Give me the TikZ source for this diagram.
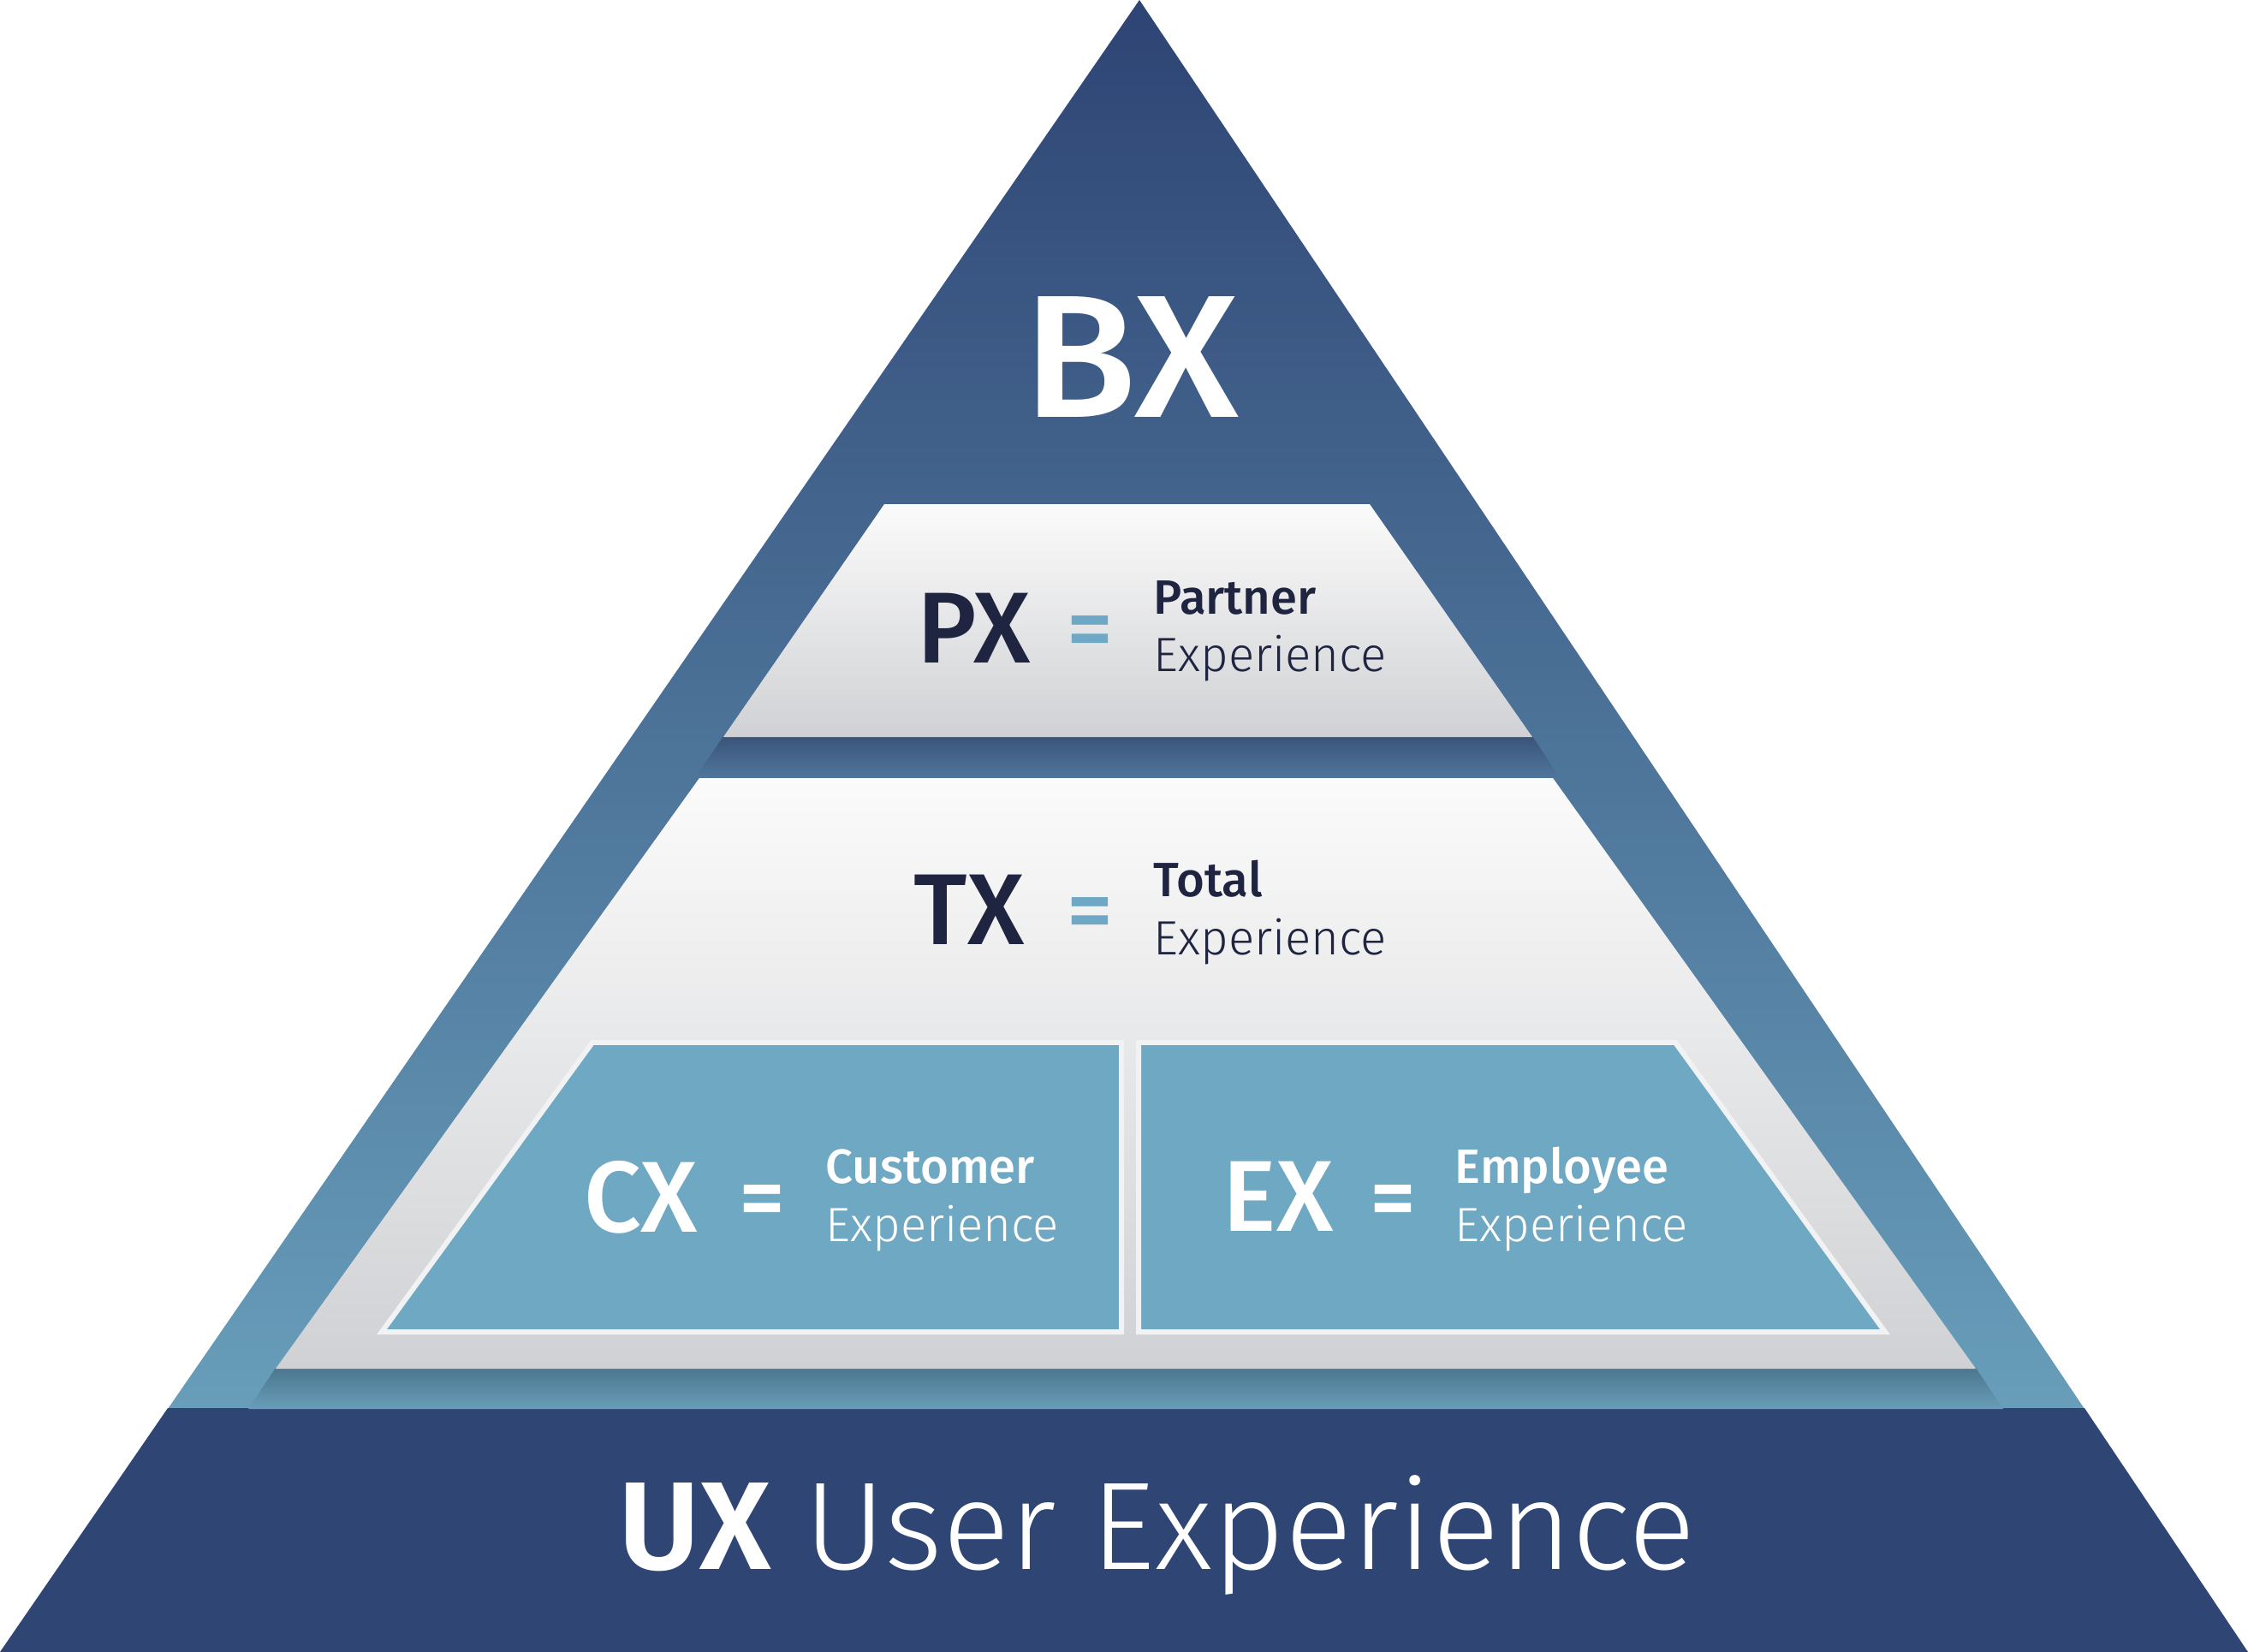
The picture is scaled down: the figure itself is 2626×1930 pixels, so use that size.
\documentclass[tikz,border=0pt]{standalone}
\usepackage{fontspec}
\setmainfont{Fira Sans}
\newfontfamily\flight{Fira Sans Light}
\newfontfamily\fmed{Fira Sans Medium}
\newfontfamily\fsemi{Fira Sans SemiBold}
\definecolor{navy}{RGB}{47,70,117}
\definecolor{tritop}{RGB}{46,68,116}
\definecolor{tribot}{RGB}{104,158,186}
\definecolor{textdark}{RGB}{31,37,65}
\definecolor{eqblue}{RGB}{111,168,196}
\definecolor{boxblue}{RGB}{111,168,194}
\definecolor{boxedge}{RGB}{240,242,243}
\definecolor{graytop}{RGB}{251,251,251}
\definecolor{graybot}{RGB}{208,209,212}
\definecolor{shadeAtop}{RGB}{58,84,120}
\definecolor{shadeAbot}{RGB}{80,118,156}
\definecolor{shadeBtop}{RGB}{76,118,142}
\definecolor{shadeBbot}{RGB}{104,158,186}
\tikzset{
  big/.style={anchor=base west, inner sep=0pt, font=\fmed\fontsize{33.5}{33.5}\selectfont},
  head/.style={anchor=base west, inner sep=0pt, font=\fmed\fontsize{16}{16}\selectfont},
  sub/.style={anchor=base west, inner sep=0pt, font=\flight\fontsize{16}{16}\selectfont},
  eqsign/.style={anchor=center, inner sep=0pt, font=\fmed\fontsize{30}{30}\selectfont},
}
\begin{document}
\begin{tikzpicture}[x=0.01cm,y=-0.01cm]
\useasboundingbox (0,0) rectangle (2626,1930);
% main triangle
\shade[top color=tritop, bottom color=tribot] (1331,0) -- (2435,1646) -- (196,1646) -- cycle;
% UX band
\fill[navy] (196,1645) -- (2435,1645) -- (2626,1930) -- (0,1930) -- cycle;
% shadows
\shade[top color=shadeAtop, bottom color=shadeAbot] (845,860) -- (1790,860) -- (1822,909) -- (812,909) -- cycle;
\shade[top color=shadeBtop, bottom color=shadeBbot] (322,1598) -- (2308,1598) -- (2340,1646) -- (290,1646) -- cycle;
% PX tier
\shade[top color=graytop, bottom color=graybot] (1033,589) -- (1600,589) -- (1790,861) -- (845,861) -- cycle;
% TX tier
\shade[top color=graytop, bottom color=graybot] (817,909) -- (1814,909) -- (2308,1599) -- (322,1599) -- cycle;
% CX and EX boxes
\filldraw[fill=boxblue, draw=boxedge, line width=1.7pt] (692,1218) -- (1310,1218) -- (1310,1556) -- (446,1556) -- cycle;
\filldraw[fill=boxblue, draw=boxedge, line width=1.7pt] (1330,1218) -- (1957,1218) -- (2202,1556) -- (1330,1556) -- cycle;
% BX
\node[anchor=base west, inner sep=0pt, font=\fmed\fontsize{58}{58}\selectfont, white] (bx) at (1195,487) {\scalebox{1.06}[1]{BX}};
% PX
\node[big, textdark] (px) at (1071,774) {PX};
\node[eqsign, eqblue] (pxeq) at (1273,745) {=};
\node[head, textdark] (pxa) at (1347,717) {Partner};
\node[sub, textdark] (pxb) at (1347,784) {Experience};
% TX
\node[big, textdark] (tx) at (1067,1103) {TX};
\node[eqsign, eqblue] (txeq) at (1273,1074) {=};
\node[head, textdark] (txa) at (1347,1047) {Total};
\node[sub, textdark] (txb) at (1347,1115) {Experience};
% CX
\node[big, white] (cx) at (682,1439) {CX};
\node[eqsign, white] (cxeq) at (890,1410) {=};
\node[head, white] (cxa) at (964,1382) {Customer};
\node[sub, white] (cxb) at (964,1450) {Experience};
% EX
\node[big, white] (ex) at (1428,1438) {EX};
\node[eqsign, white] (exeq) at (1627,1410) {=};
\node[head, white] (exa) at (1699,1382) {Employee};
\node[sub, white] (exb) at (1699,1450) {Experience};
% UX
\node[anchor=base west, inner sep=0pt, white, font=\fontsize{41.5}{41.5}\selectfont] (ux) at (722,1833) {{\fsemi UX} {\flight User Experience}};
\end{tikzpicture}
\end{document}
